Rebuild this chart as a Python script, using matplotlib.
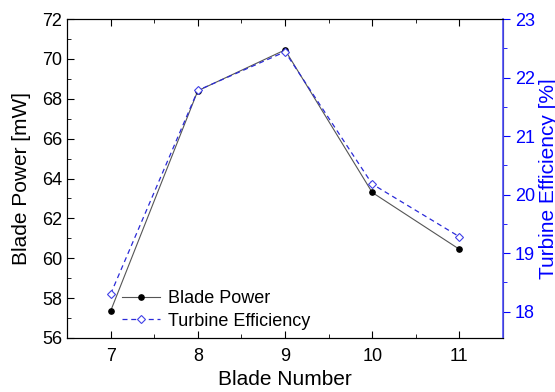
import matplotlib
matplotlib.use("Agg")
import matplotlib.pyplot as plt
from matplotlib.ticker import MultipleLocator

plt.rcParams["font.family"] = ["Liberation Sans", "DejaVu Sans"]

# data
blades = [7, 8, 9, 10, 11]
power = [57.35, 68.4, 70.45, 63.3, 60.45]
efficiency = [18.3, 21.78, 22.44, 20.18, 19.28]

fig = plt.figure(figsize=(5.55, 3.92), dpi=100)
ax = fig.add_axes([67 / 555, 1 - 338 / 392, 436 / 555, 319 / 392])
ax2 = ax.twinx()

l1, = ax.plot(blades, power, color="#555555", lw=0.8, marker="o", ms=3.8,
              mfc="black", mec="black", label="Blade Power")
l2, = ax2.plot(blades, efficiency, color="#2a2ad8", lw=0.9, ls=(0, (4, 3)),
               marker="D", ms=4, mfc="white", mec="#4040e8", mew=0.8,
               label="Turbine Efficiency")

ax.set_xlim(6.5, 11.5)
ax.set_ylim(56, 72)
ax2.set_ylim(17.55, 23)

ax.xaxis.set_major_locator(MultipleLocator(1))
ax.xaxis.set_minor_locator(MultipleLocator(0.5))
ax.yaxis.set_major_locator(MultipleLocator(2))
ax.yaxis.set_minor_locator(MultipleLocator(1))
ax2.yaxis.set_major_locator(MultipleLocator(1))
ax2.yaxis.set_minor_locator(MultipleLocator(0.5))

ax.tick_params(axis="both", which="both", direction="in", top=True,
               right=False, labelsize=13)
ax.tick_params(which="major", length=5)
ax.tick_params(which="minor", length=3)
ax.tick_params(axis="x", which="major", pad=7)
ax2.tick_params(axis="y", which="both", direction="out", colors="blue",
                labelsize=13)
ax2.tick_params(which="major", length=5)
ax2.tick_params(which="minor", length=3)
ax2.spines["right"].set_color("#5050ff")
ax2.spines["right"].set_linewidth(1.2)

ax.set_xlabel("Blade Number", fontsize=15, labelpad=4)
ax.set_ylabel("Blade Power [mW]", fontsize=15, labelpad=8)
ax2.set_ylabel("Turbine Efficiency [%]", fontsize=15, color="blue", labelpad=3)

ax.legend([l1, l2], ["Blade Power", "Turbine Efficiency"], loc="lower left",
          bbox_to_anchor=(0.09, -0.025), frameon=False, fontsize=13,
          handlelength=2.1, handletextpad=0.4, labelspacing=0.3)

fig.savefig("out.png", dpi=100)
